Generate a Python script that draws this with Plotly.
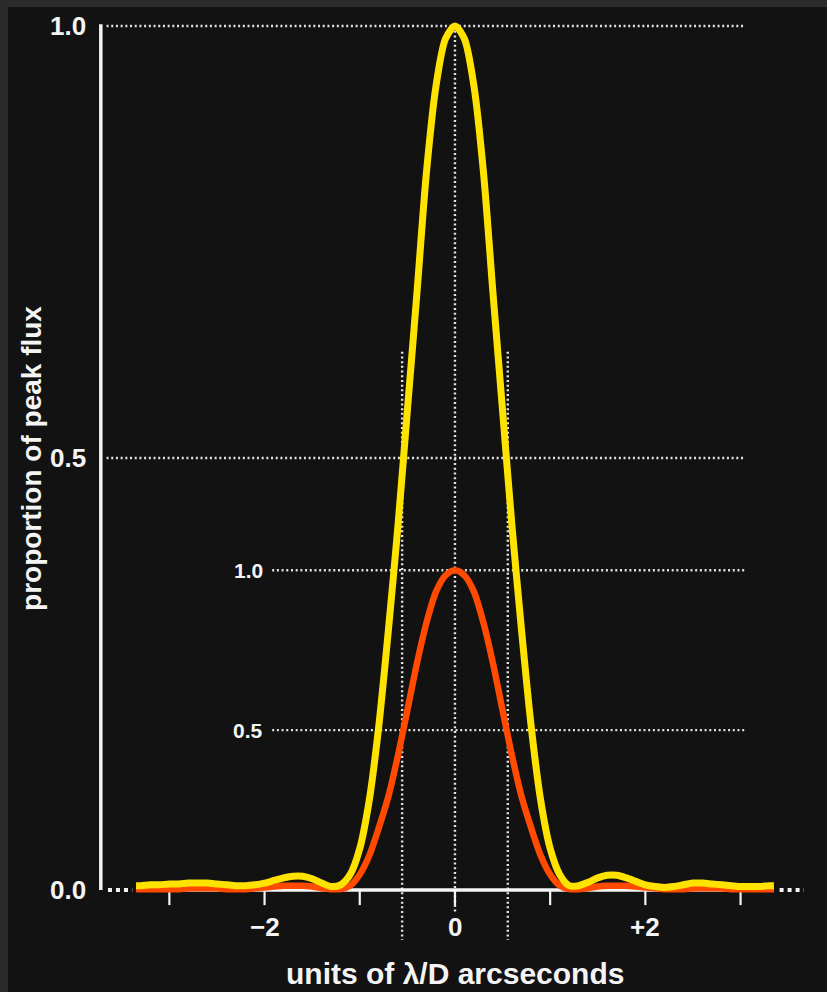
import plotly.graph_objects as go

# sample positions (units of lambda/D)
x_pos = [-3.35, -3.3, -3.2, -3.1, -3.0, -2.9, -2.8, -2.7, -2.6, -2.5, -2.4, -2.3,
         -2.2, -2.1, -2.0, -1.9, -1.8, -1.7, -1.6, -1.5, -1.4, -1.3, -1.2, -1.1,
         -1.0, -0.9, -0.8, -0.7, -0.6, -0.5, -0.4, -0.3, -0.2, -0.1, 0.0,
         0.1, 0.2, 0.3, 0.4, 0.5, 0.6, 0.7, 0.8, 0.9, 1.0, 1.1, 1.2, 1.3,
         1.4, 1.5, 1.6, 1.7, 1.8, 1.9, 2.0, 2.1, 2.2, 2.3, 2.4, 2.5, 2.6,
         2.7, 2.8, 2.9, 3.0, 3.1, 3.2, 3.3, 3.35]

# diffraction-limited profile (yellow)
ideal_flux = [0.005, 0.005, 0.006, 0.006, 0.007, 0.007, 0.008, 0.008, 0.008, 0.007, 0.006, 0.005,
              0.005, 0.006, 0.008, 0.011, 0.014, 0.016, 0.016, 0.013, 0.008, 0.004, 0.006, 0.018,
              0.048, 0.104, 0.19, 0.30, 0.42, 0.555, 0.69, 0.83, 0.93, 0.985, 1.0,
              0.985, 0.93, 0.83, 0.69, 0.555, 0.42, 0.30, 0.19, 0.104, 0.048, 0.018, 0.005, 0.005,
              0.009, 0.014, 0.017, 0.017, 0.014, 0.010, 0.006, 0.004, 0.003, 0.004, 0.006, 0.008, 0.008,
              0.007, 0.006, 0.005, 0.004, 0.004, 0.004, 0.005, 0.005]

# degraded profile (red), peak 0.37 of the ideal peak
real_flux = [0.001, 0.001, 0.001, 0.001, 0.001, 0.001, 0.002, 0.002, 0.002, 0.002, 0.001, 0.001,
             0.001, 0.002, 0.003, 0.004, 0.005, 0.005, 0.005, 0.004, 0.002, 0.001, 0.001, 0.005,
             0.018, 0.040, 0.072, 0.108, 0.155, 0.208, 0.262, 0.309, 0.345, 0.364, 0.37,
             0.364, 0.345, 0.309, 0.262, 0.208, 0.155, 0.108, 0.072, 0.040, 0.018, 0.005, 0.001, 0.001,
             0.002, 0.004, 0.005, 0.005, 0.005, 0.004, 0.003, 0.002, 0.001, 0.001, 0.001, 0.002, 0.002,
             0.002, 0.002, 0.001, 0.001, 0.001, 0.001, 0.001, 0.001]

real_peak = 0.37
half_width = 0.555

y_ticks = [1.0, 0.5, 0.0]
y_tick_text = ["1.0", "0.5", "0.0"]
inner_ticks = [1.0, 0.5]
inner_tick_text = ["1.0", "0.5"]
x_ticks = [-3, -2, -1, 0, 1, 2, 3]
x_label_vals = [-2, 0, 2]
x_label_text = ["\u22122", "0", "+2"]

BG = "#121212"
FRAME = "#2b2b2b"
WHITE = "#f4f4f4"
DOT = "#e2e2e2"
YELLOW = "#ffe300"
RED = "#ff4a00"
FONT = "Liberation Sans, Arial, sans-serif"
DOTS = "2px,2.7px"

fig = go.Figure()

fig.add_trace(go.Scatter(x=x_pos, y=real_flux, mode="lines",
                         line=dict(color=RED, width=6.5, shape="spline", smoothing=0.8),
                         hoverinfo="skip"))
fig.add_trace(go.Scatter(x=x_pos, y=ideal_flux, mode="lines",
                         line=dict(color=YELLOW, width=7, shape="spline", smoothing=0.8),
                         hoverinfo="skip"))

shapes = []
x_left, x_right = x_pos[0], x_pos[-1]

# dotted reference grid
for v in [1.0, 0.5]:
    shapes.append(dict(type="line", x0=-3.66, x1=3.046, y0=v, y1=v,
                       line=dict(color=DOT, width=2.4, dash=DOTS), layer="below"))
for v in inner_ticks:
    shapes.append(dict(type="line", x0=-1.92, x1=3.046, y0=real_peak * v, y1=real_peak * v,
                       line=dict(color=DOT, width=2.4, dash=DOTS), layer="below"))
shapes.append(dict(type="line", x0=0, x1=0, y0=1.0, y1=-0.0255,
                   line=dict(color=DOT, width=2.4, dash=DOTS), layer="below"))
for s in (-1, 1):
    shapes.append(dict(type="line", x0=s * half_width, x1=s * half_width, y0=0.623, y1=-0.058,
                       line=dict(color=DOT, width=2.4, dash=DOTS), layer="below"))

# axes
shapes.append(dict(type="line", x0=-3.72, x1=-3.72, y0=0, y1=1.002,
                   line=dict(color=WHITE, width=3.5)))
shapes.append(dict(type="line", x0=x_left, x1=x_right, y0=0, y1=0,
                   line=dict(color=WHITE, width=3.5), layer="below"))
for t in x_ticks:
    shapes.append(dict(type="line", x0=t, x1=t, y0=0, y1=-0.0175,
                       line=dict(color=WHITE, width=2.2), layer="below"))
# continuation marks beyond the x range
shapes.append(dict(type="line", x0=-3.645, x1=-3.39, y0=0, y1=0,
                   line=dict(color=WHITE, width=4, dash="4px,4px")))
shapes.append(dict(type="line", x0=3.41, x1=3.665, y0=0, y1=0,
                   line=dict(color=WHITE, width=4, dash="4px,4px")))

annotations = []
for v, t in zip(y_ticks, y_tick_text):
    annotations.append(dict(x=-3.855, y=v, text=t, showarrow=False, xanchor="right",
                            yanchor="middle", font=dict(family=FONT, size=26, color=WHITE, weight=700)))
for v, t in zip(inner_ticks, inner_tick_text):
    annotations.append(dict(x=-1.996, y=real_peak * v, text=t, showarrow=False, xanchor="right",
                            yanchor="middle", font=dict(family=FONT, size=21, color=WHITE, weight=700)))
for v, t in zip(x_label_vals, x_label_text):
    annotations.append(dict(x=v, y=-0.0428, text=t, showarrow=False, xanchor="center",
                            yanchor="middle", font=dict(family=FONT, size=26, color=WHITE, weight=700)))
annotations.append(dict(x=0, y=-0.097, text="units of \u03bb/D arcseconds", showarrow=False,
                        xanchor="center", yanchor="middle",
                        font=dict(family=FONT, size=30, color=WHITE, weight=700)))
annotations.append(dict(x=-4.454, y=0.5, text="proportion of peak flux", showarrow=False,
                        textangle=-90, xanchor="center", yanchor="middle",
                        font=dict(family=FONT, size=28, color=WHITE, weight=700)))

fig.update_layout(
    width=827, height=992,
    margin=dict(l=8, t=7, r=0, b=0),
    paper_bgcolor=FRAME, plot_bgcolor=BG,
    showlegend=False,
    shapes=shapes, annotations=annotations,
    xaxis=dict(range=[-4.695, 3.908], visible=False, fixedrange=True),
    yaxis=dict(range=[-0.11806, 1.02199], visible=False, fixedrange=True),
)

fig.write_html("out.html")
